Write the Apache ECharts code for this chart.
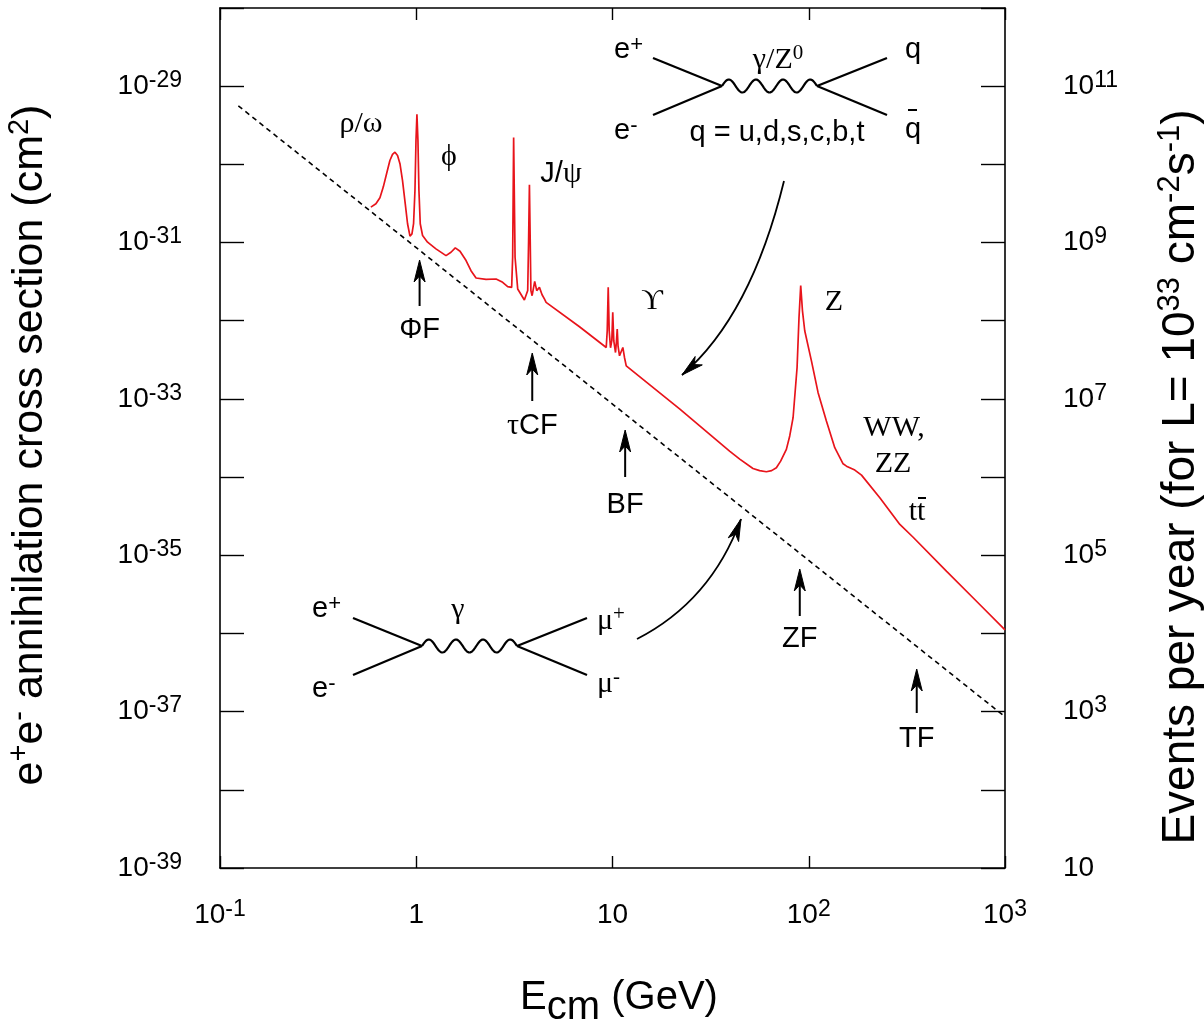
<!DOCTYPE html>
<html>
<head>
<meta charset="utf-8">
<title>e+e- annihilation cross section</title>
<script src="https://cdn.jsdelivr.net/npm/echarts@6/dist/echarts.min.js"></script>
<style>
html, body { margin: 0; padding: 0; background: #fff; }
#main { width: 1204px; height: 1027px; }
</style>
</head>
<body>
<div id="main"></div>
<script>
// red curve: e+e- -> hadrons, E_cm (GeV) / sigma (cm^2)
var energy = [
    0.587, 0.623, 0.653, 0.679, 0.706, 0.734, 0.757, 0.779, 0.803, 0.826, 0.851, 0.879, 0.903, 0.929, 0.951, 0.969, 0.985, 0.997,
    1.008, 1.020, 1.032, 1.048, 1.077, 1.142, 1.260, 1.418, 1.503, 1.581, 1.671, 1.794, 1.901, 2.017, 2.268, 2.551, 2.756, 2.923,
    3.063, 3.099, 3.135, 3.188, 3.288, 3.556, 3.698, 3.737, 3.773, 3.808, 3.839, 3.894, 4.014, 4.111, 4.243, 4.377, 4.498, 4.589,
    6.79, 9.29, 9.40, 9.51, 9.62, 9.77, 9.92, 10.03, 10.15, 10.36, 10.48, 10.57, 10.67, 10.86, 11.08, 11.29, 11.51, 11.75,
    21.97, 39.5, 44.5, 51.97, 56.2, 60.8, 64.7, 68.4, 71.9, 76.9, 80.0, 83.2, 87.2, 89.2, 91.0, 92.9, 95.4, 103.2, 111.5,
    123.0, 135.7, 149.6, 155.7, 171.7, 185.7, 230.2, 291.2, 340.4, 504.2, 745.6, 1000
];
var sigma = [
    2.84e-31, 3.13e-31, 3.74e-31, 5.12e-31, 7.60e-31, 1.12e-30, 1.34e-30, 1.43e-30, 1.30e-30, 1.02e-30, 6.24e-31, 3.13e-31, 1.74e-31, 1.21e-31, 1.29e-31, 1.74e-31, 4.64e-31, 2.03e-30,
    4.38e-30, 2.03e-30, 4.64e-31, 1.74e-31, 1.23e-31, 1.01e-31, 8.30e-32, 6.81e-32, 7.51e-32, 8.55e-32, 7.73e-32, 5.88e-32, 4.37e-32, 3.52e-32, 3.38e-32, 3.42e-32, 3.10e-32, 2.73e-32,
    2.67e-32, 6.48e-32, 2.20e-30, 6.48e-32, 2.55e-32, 1.84e-32, 2.43e-32, 1.06e-31, 5.50e-31, 1.06e-31, 2.43e-32, 2.09e-32, 3.19e-32, 2.43e-32, 2.67e-32, 2.15e-32, 1.90e-32, 1.72e-32,
    8.38e-33, 4.55e-33, 7.45e-33, 2.67e-32, 7.45e-33, 4.51e-33, 5.55e-33, 1.28e-32, 5.55e-33, 3.92e-33, 5.55e-33, 7.83e-33, 4.78e-33, 3.56e-33, 3.74e-33, 4.55e-33, 3.39e-33, 2.65e-33,
    7.44e-34, 2.15e-34, 1.70e-34, 1.29e-34, 1.21e-34, 1.17e-34, 1.21e-34, 1.32e-34, 1.60e-34, 2.26e-34, 3.36e-34, 5.75e-34, 2.52e-33, 1.10e-32, 2.81e-32, 1.34e-32, 7.44e-33, 3.07e-33, 1.21e-33,
    5.22e-34, 2.38e-34, 1.48e-34, 1.38e-34, 1.23e-34, 1.06e-34, 5.43e-35, 2.48e-35, 1.70e-35, 6.24e-36, 2.33e-36, 1.11e-36
];

// dashed line: e+e- -> mu+mu- (point-like)
var muEnergy = [0.124, 1, 10, 100, 1000];
var muSigma = [5.6e-30, 8.6e-32, 8.6e-34, 8.6e-36, 8.6e-38];

// tick labels (powers of ten)
var xTickExp = [-1, 0, 1, 2, 3];
var sigmaTickExp = [-39, -37, -35, -33, -31, -29];
var eventsTickExp = [1, 3, 5, 7, 9, 11];

// facilities marked with arrows under the dashed line
var facilities = ['ΦF', 'τCF', 'BF', 'ZF', 'TF'];
var facilityE = [1.04, 3.9, 11.6, 90, 355];

var SANS = '"Liberation Sans", Arial, Helvetica, sans-serif';
var SERIF = '"Liberation Serif", "Times New Roman", serif';

function powLabel(e) {
    if (e === 0) return '{b|1}';
    if (e === 1) return '{b|10}';
    return '{b|10}{s|' + e + '}';
}

var tickRich = {
    b: { fontFamily: SANS, fontSize: 28, color: '#000', lineHeight: 34 },
    s: { fontFamily: SANS, fontSize: 23, color: '#000', lineHeight: 22, verticalAlign: 'top' }
};
var frame = { show: true, onZero: false, lineStyle: { color: '#000', width: 1.6 } };

var chart = echarts.init(document.getElementById('main'));

var option = {
    animation: false,
    backgroundColor: '#fff',
    grid: { left: 220, right: 199, top: 8, bottom: 159, outerBoundsMode: 'none' },
    xAxis: [
        {
            type: 'log', logBase: 10, min: 0.1, max: 1000,
            position: 'bottom',
            axisLine: frame,
            axisTick: { show: true, inside: true, length: 12, lineStyle: { color: '#000', width: 1.4 } },
            axisLabel: {
                margin: 30,
                formatter: function (v) {
                    var e = Math.round(Math.log10(v));
                    return xTickExp.indexOf(e) >= 0 ? powLabel(e) : '';
                },
                rich: tickRich
            },
            splitLine: { show: false },
            minorTick: { show: false }
        },
        {
            type: 'value', min: -1, max: 3, interval: 1,
            position: 'top',
            axisLine: frame,
            axisTick: { show: true, inside: true, length: 12, lineStyle: { color: '#000', width: 1.4 } },
            axisLabel: { show: false },
            splitLine: { show: false }
        }
    ],
    yAxis: [
        {
            type: 'value', min: -39, max: -28, interval: 1,
            position: 'left',
            axisLine: frame,
            axisTick: { show: true, inside: true, length: 24, lineStyle: { color: '#000', width: 1.4 } },
            axisLabel: {
                margin: 38,
                formatter: function (v) {
                    return sigmaTickExp.indexOf(v) >= 0 ? powLabel(v) : '';
                },
                rich: tickRich
            },
            splitLine: { show: false }
        },
        {
            type: 'value', min: 1, max: 12, interval: 1,
            position: 'right',
            axisLine: frame,
            axisTick: { show: true, inside: true, length: 24, lineStyle: { color: '#000', width: 1.4 } },
            axisLabel: {
                margin: 58,
                align: 'left',
                formatter: function (v) {
                    return eventsTickExp.indexOf(v) >= 0 ? powLabel(v) : '';
                },
                rich: tickRich
            },
            splitLine: { show: false }
        }
    ],
    series: [
        {
            name: 'mu pairs',
            type: 'line',
            data: muEnergy.map(function (e, i) { return [e, Math.log10(muSigma[i])]; }),
            showSymbol: false,
            silent: true,
            lineStyle: { color: '#000', width: 1.6, type: [5, 4] },
            z: 2
        },
        {
            name: 'hadrons',
            type: 'line',
            data: energy.map(function (e, i) { return [e, Math.log10(sigma[i])]; }),
            showSymbol: false,
            silent: true,
            lineStyle: { color: '#e8141b', width: 1.7 },
            z: 3
        }
    ]
};
chart.setOption(option);

// ---- annotations ----
function seg(x1, y1, x2, y2, w) {
    return { type: 'line', silent: true, shape: { x1: x1, y1: y1, x2: x2, y2: y2 },
             style: { stroke: '#000', lineWidth: w || 2.2 } };
}
function label(x, y, str, rich, align) {
    return { type: 'text', silent: true, x: x, y: y,
             style: { text: str, rich: rich, align: align || 'center', verticalAlign: 'middle', fill: '#000' } };
}
function tok(size, family, extra) {
    var t = { font: size + 'px ' + family, fill: '#000', lineHeight: Math.round(size * 1.15) };
    for (var k in extra) t[k] = extra[k];
    return t;
}
var txt = {
    a: tok(29, SANS),
    p: tok(22, SANS, { verticalAlign: 'top', lineHeight: 22 }),
    g: tok(30, SERIF),
    gp: tok(21, SERIF, { verticalAlign: 'top', lineHeight: 21 })
};
function wave(x0, x1, y, amp, periods) {
    var pts = [], n = 120;
    for (var i = 0; i <= n; i++) {
        var t = i / n;
        pts.push([x0 + (x1 - x0) * t, y - amp * Math.sin(2 * Math.PI * periods * t)]);
    }
    return { type: 'polyline', silent: true, shape: { points: pts },
             style: { stroke: '#000', lineWidth: 2.2, fill: null } };
}
function head(tx, ty, dx, dy) {
    var len = Math.sqrt(dx * dx + dy * dy); dx /= len; dy /= len;
    var L = 22, W = 5.5, nx = -dy, ny = dx;
    var bx = tx - dx * L, by = ty - dy * L;
    return { type: 'polygon', silent: true,
             shape: { points: [[tx, ty], [bx + nx * W, by + ny * W], [tx - dx * (L - 6), ty - dy * (L - 6)], [bx - nx * W, by - ny * W]] },
             style: { fill: '#000', stroke: '#000', lineWidth: 1 } };
}
function curveArrow(sx, sy, cx, cy, ex, ey) {
    return [
        { type: 'bezierCurve', silent: true,
          shape: { x1: sx, y1: sy, cpx1: cx, cpy1: cy, x2: ex, y2: ey },
          style: { stroke: '#000', lineWidth: 1.8, fill: null } },
        head(ex, ey, ex - cx, ey - cy)
    ];
}

// arrow tip / tail / label heights for each facility (pixels)
var facilityLayout = [
    { tip: 260, tail: 306, ly: 330 },
    { tip: 353, tail: 401, ly: 426 },
    { tip: 430, tail: 477, ly: 505 },
    { tip: 569, tail: 616, ly: 639 },
    { tip: 669, tail: 713, ly: 739 }
];

var g = [];

// top Feynman diagram (e+e- -> gamma/Z -> q qbar)
g.push(seg(653, 58, 722, 86), seg(653, 115, 722, 86), seg(817, 86, 887, 58), seg(817, 86, 887, 115));
g.push(wave(722, 817, 86, 6.5, 3.5));
g.push(label(614, 50, '{a|e}{p|+}', txt, 'left'));
g.push(label(614, 131, '{a|e}{p|-}', txt, 'left'));
g.push(label(778, 60, '{g|γ/Z}{gp|0}', txt));
g.push(label(913, 50, '{a|q}', txt));
g.push(label(913, 130, '{a|q}', txt));
g.push(seg(908, 110, 917, 110, 2));
g.push(label(777, 133, '{a|q = u,d,s,c,b,t}', txt));

// bottom Feynman diagram (e+e- -> gamma -> mu+mu-)
g.push(seg(353, 618, 422, 646), seg(353, 675, 422, 646), seg(517, 646, 587, 618), seg(517, 646, 587, 675));
g.push(wave(422, 517, 646, 6.5, 3.5));
g.push(label(312, 609, '{a|e}{p|+}', txt, 'left'));
g.push(label(312, 689, '{a|e}{p|-}', txt, 'left'));
g.push(label(458, 610, '{g|γ}', txt));
g.push(label(597, 621, '{g|μ}{gp|+}', txt, 'left'));
g.push(label(597, 684, '{g|μ}{gp|-}', txt, 'left'));

// curved arrows from the diagrams to the curves
g = g.concat(curveArrow(784, 181, 751, 316, 682, 375));
g = g.concat(curveArrow(637, 639, 711, 601, 741, 519));

// resonance / process labels
g.push(label(361, 124, '{g|ρ/ω}', txt));
g.push(label(449, 157, '{g|ϕ}', txt));
g.push(label(561, 174, '{a|J/}{g|ψ}', txt));
g.push(label(652, 301, '{g|ϒ}', txt));
g.push(label(834, 302, '{g|Z}', txt));
g.push(label(894, 428, '{g|WW,}', txt));
g.push(label(893, 464, '{g|ZZ}', txt));
g.push(label(917, 512, '{g|tt}', txt));
g.push(seg(918, 498, 926, 498, 2));

// facility arrows
facilities.forEach(function (name, i) {
    var x = chart.convertToPixel({ xAxisIndex: 0 }, facilityE[i]);
    var f = facilityLayout[i];
    g.push(seg(x, f.tail, x, f.tip + 14, 2));
    g.push(head(x, f.tip, 0, -1));
    var s = name.charAt(0) === 'τ' ? '{g|τ}{a|CF}' : '{a|' + name + '}';
    g.push(label(x, f.ly, s, txt));
});

// axis titles
var leftRich = {
    a: tok(43, SANS),
    p: tok(29, SANS, { verticalAlign: 'top', lineHeight: 29 })
};
var rightRich = {
    a: tok(46, SANS),
    p: tok(31, SANS, { verticalAlign: 'top', lineHeight: 31 })
};
g.push({ type: 'text', silent: true, x: 30, y: 445, rotation: Math.PI / 2,
         style: { text: '{a|e}{p|+}{a|e}{p|-}{a| annihilation cross section (cm}{p|2}{a|)}',
                  rich: leftRich, align: 'center', verticalAlign: 'middle', fill: '#000' } });
g.push({ type: 'text', silent: true, x: 1181, y: 477, rotation: Math.PI / 2,
         style: { text: '{a|Events per year (for L= 10}{p|33}{a| cm}{p|-2}{a|s}{p|-1}{a|)}',
                  rich: rightRich, align: 'center', verticalAlign: 'middle', fill: '#000' } });
var subRich = {
    a: tok(40, SANS, { lineHeight: 46 }),
    c: tok(40, SANS, { lineHeight: 30, padding: [20, 0, 0, 0] })
};
g.push({ type: 'text', silent: true, x: 619, y: 998,
         style: { text: '{a|E}{c|cm}{a| (GeV)}', rich: subRich, align: 'center', verticalAlign: 'middle', fill: '#000' } });

chart.setOption({ graphic: { elements: g } });
</script>
</body>
</html>
